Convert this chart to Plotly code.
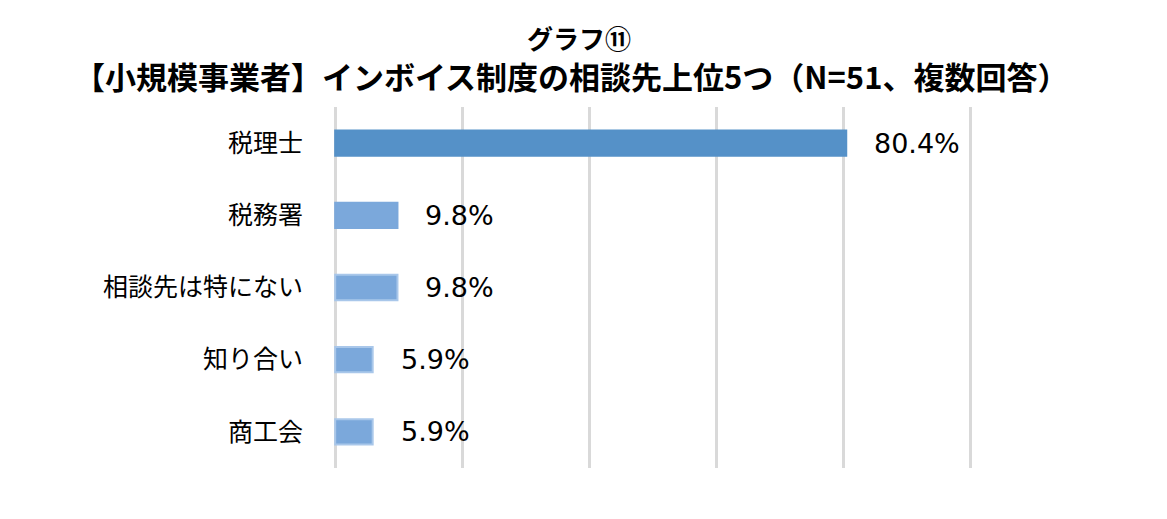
import plotly.graph_objects as go

categories = ["税理士", "税務署", "相談先は特にない", "知り合い", "商工会"]
values = [80.4, 9.8, 9.8, 5.9, 5.9]
value_labels = ["80.4%", "9.8%", "9.8%", "5.9%", "5.9%"]
x_ticks = [0, 20, 40, 60, 80, 100]
title_line1 = "グラフ⑪"
title_line2 = "【小規模事業者】インボイス制度の相談先上位5つ（N=51、複数回答）"

bar_colors = ["#5591C8", "#7BA8DB", "#7BA8DB", "#7BA8DB", "#7BA8DB"]
line_colors = ["#5591C8", "#7BA8DB", "#A9C7EA", "#A9C7EA", "#A9C7EA"]

NUMFONT = "DejaVu Sans, Noto Sans CJK JP, sans-serif"
JPFONT = "Noto Sans CJK JP, sans-serif"

fig = go.Figure()
fig.add_trace(go.Bar(
    y=categories, x=values, orientation="h",
    marker=dict(color=bar_colors, line=dict(color=line_colors, width=2)),
    width=0.35, hoverinfo="skip",
))

for c, v, t in zip(categories, values, value_labels):
    fig.add_annotation(x=v, y=c, text=t, showarrow=False, xanchor="left",
                       xshift=26, font=dict(size=27, color="#000000", family=NUMFONT))

fig.add_annotation(text="<b>" + title_line1 + "</b>", xref="paper", yref="paper",
                   x=0.385, y=1.0, yshift=70, xanchor="center", yanchor="middle",
                   showarrow=False, font=dict(size=26, color="#000000", family=JPFONT))
fig.add_annotation(text="<b>" + title_line2 + "</b>", xref="paper", yref="paper",
                   x=0.372, y=1.0, yshift=32, xanchor="center", yanchor="middle",
                   showarrow=False, font=dict(size=31, color="#000000", family=JPFONT))

fig.update_layout(
    width=1167, height=519,
    margin=dict(l=332, r=193, t=107, b=51, autoexpand=False),
    paper_bgcolor="white", plot_bgcolor="white",
    showlegend=False,
    xaxis=dict(range=[-0.5, 100.5], tickvals=x_ticks, showticklabels=False,
               showgrid=True, gridcolor="#D9D9D9", gridwidth=3,
               zeroline=False, showline=False, fixedrange=True, automargin=False),
    yaxis=dict(autorange="reversed", tickfont=dict(size=25, color="#000000", family=JPFONT),
               ticklabelstandoff=28, showgrid=False, zeroline=False, showline=False,
               ticks="", automargin=False, fixedrange=True),
)

fig.write_html("out.html", config={"displayModeBar": False},
               post_script="document.body.style.margin='0px';")
